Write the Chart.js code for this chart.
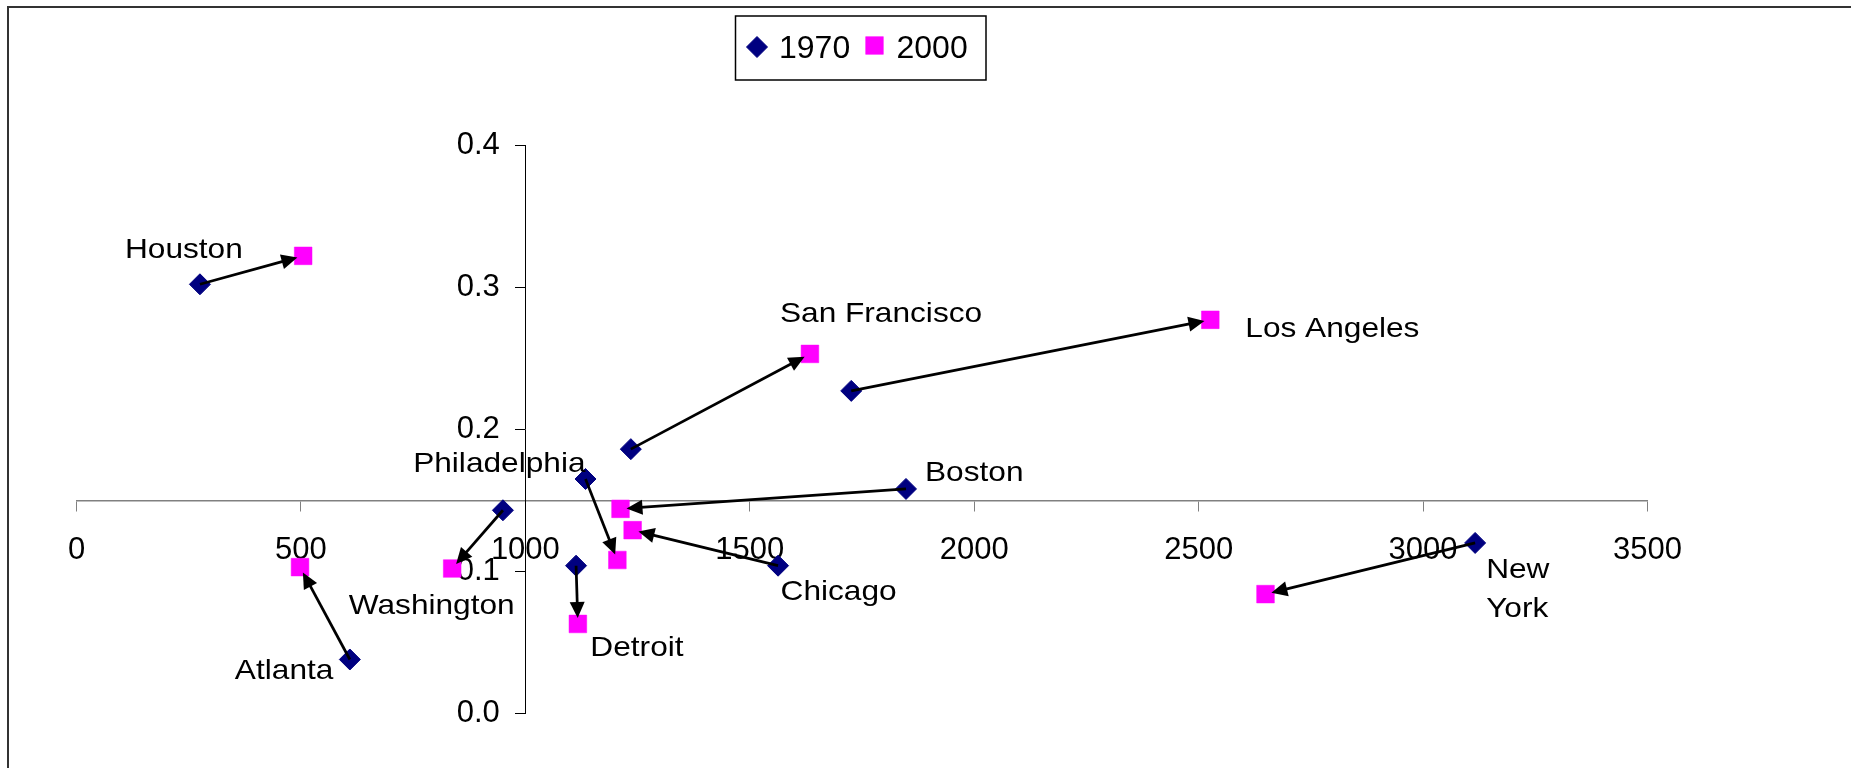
<!DOCTYPE html>
<html>
<head>
<meta charset="utf-8">
<title>Metro areas 1970 / 2000</title>
<script src="https://cdn.jsdelivr.net/npm/chart.js@4/dist/chart.umd.min.js"></script>
<style>
  html, body { margin: 0; padding: 0; background: #ffffff; }
  #wrap { position: relative; width: 1851px; height: 768px; }
</style>
</head>
<body>
<div id="wrap"><canvas id="chart" width="1851" height="768"></canvas></div>
<script>
// ---- data ----
const cities = ['Houston', 'San Francisco', 'Los Angeles', 'Boston', 'Philadelphia',
                'Chicago', 'Washington', 'Detroit', 'Atlanta', 'New York'];
const seriesNames = ['1970', '2000'];
const x1970 = [275, 1235, 1726, 1848, 1134, 1563, 950, 1113, 609, 3116];
const y1970 = [0.302, 0.186, 0.227, 0.158, 0.165, 0.104, 0.143, 0.104, 0.038, 0.120];
const x2000 = [505, 1634, 2526, 1212, 1205, 1239, 837, 1117, 498, 2649];
const y2000 = [0.322, 0.253, 0.277, 0.144, 0.108, 0.129, 0.102, 0.063, 0.103, 0.084];
const xTickValues = [0, 500, 1000, 1500, 2000, 2500, 3000, 3500];
const yTickLabels = ['0.0', '0.1', '0.2', '0.3', '0.4'];

// ---- styling ----
const FONT = '"Liberation Sans", Arial, Helvetica, sans-serif';
const LABEL_SIZE = 28.5;     // city names
const LABEL_STRETCH = 1.11;  // city names are set slightly wide
const Y_LABEL_GAP = 25.5;    // distance from the vertical axis to its labels

// where each city name sits, relative to one of its two points (pixels)
const labelPlacement = {
  'Houston':       { from: 1970, align: 'left',  dx: -75,  dy: -26 },
  'San Francisco': { from: 2000, align: 'left',  dx: -30,  dy: -32 },
  'Los Angeles':   { from: 2000, align: 'left',  dx: 35,   dy: 17.5 },
  'Boston':        { from: 1970, align: 'left',  dx: 19,   dy: -7.5 },
  'Philadelphia':  { from: 1970, align: 'right', dx: 0,    dy: -7 },
  'Chicago':       { from: 1970, align: 'left',  dx: 2.5,  dy: 34.5 },
  'Washington':    { from: 2000, align: 'right', dx: 62.5, dy: 45.5 },
  'Detroit':       { from: 2000, align: 'left',  dx: 12.5, dy: 32.5 },
  'Atlanta':       { from: 1970, align: 'right', dx: -16.5, dy: 20 },
  'New York':      { from: 1970, align: 'left',  dx: 11,   dy: 35, wrap: true, lineGap: 39 }
};

function pointsOf(xs, ys) {
  return xs.map((v, i) => ({ x: v, y: ys[i] }));
}

// Outer frame of the chart area (runs past the right and bottom edges)
const outerFrame = {
  id: 'outerFrame',
  beforeDraw(chart) {
    const ctx = chart.ctx;
    ctx.save();
    ctx.strokeStyle = '#333333';
    ctx.lineWidth = 2;
    ctx.strokeRect(8, 7, chart.width + 20, chart.height + 20);
    ctx.restore();
  }
};

// The crossing y axis puts its labels right on the axis line;
// move them left so they sit beyond the tick marks.
const crossingAxisLabels = {
  id: 'crossingAxisLabels',
  beforeDraw(chart) {
    const scale = chart.scales.y;
    const items = scale.getLabelItems(chart.chartArea);
    if (items._shifted) return;
    items.forEach(it => { it.options.translation[0] -= Y_LABEL_GAP; });
    items._shifted = true;
  }
};

// Arrows from each 1970 point to its 2000 point, then the city names
const cityAnnotations = {
  id: 'cityAnnotations',
  afterDraw(chart) {
    const { ctx } = chart;
    const xs = chart.scales.x, ys = chart.scales.y;
    ctx.save();
    cities.forEach((name, i) => {
      const ax = xs.getPixelForValue(x1970[i]), ay = ys.getPixelForValue(y1970[i]);
      const bx = xs.getPixelForValue(x2000[i]), by = ys.getPixelForValue(y2000[i]);
      const ang = Math.atan2(by - ay, bx - ax);
      const c = Math.cos(ang), s = Math.sin(ang);
      const tipX = bx - c * 6, tipY = by - s * 6;
      const headLen = 16, headHalf = 7.5;
      const baseX = tipX - c * headLen, baseY = tipY - s * headLen;
      ctx.strokeStyle = '#000';
      ctx.lineWidth = 2.75;
      ctx.lineCap = 'butt';
      ctx.beginPath();
      ctx.moveTo(ax, ay);
      ctx.lineTo(baseX + c * 2, baseY + s * 2);
      ctx.stroke();
      ctx.fillStyle = '#000';
      ctx.beginPath();
      ctx.moveTo(tipX, tipY);
      ctx.lineTo(baseX + s * headHalf, baseY - c * headHalf);
      ctx.lineTo(baseX - s * headHalf, baseY + c * headHalf);
      ctx.closePath();
      ctx.fill();
    });

    ctx.fillStyle = '#000';
    ctx.font = LABEL_SIZE + 'px ' + FONT;
    ctx.textBaseline = 'alphabetic';
    cities.forEach((name, i) => {
      const p = labelPlacement[name];
      const px = p.from === 1970 ? xs.getPixelForValue(x1970[i]) : xs.getPixelForValue(x2000[i]);
      const py = p.from === 1970 ? ys.getPixelForValue(y1970[i]) : ys.getPixelForValue(y2000[i]);
      const lines = p.wrap ? name.split(' ') : [name];
      lines.forEach((line, k) => {
        ctx.save();
        ctx.translate(px + p.dx, py + p.dy + k * (p.lineGap || 0));
        ctx.scale(LABEL_STRETCH, 1);
        ctx.textAlign = p.align;
        ctx.fillText(line, 0, 0);
        ctx.restore();
      });
    });
    ctx.restore();
  }
};

// Boxed legend above the plot
const boxedLegend = {
  id: 'boxedLegend',
  afterDraw(chart) {
    const ctx = chart.ctx;
    ctx.save();
    ctx.fillStyle = '#ffffff';
    ctx.fillRect(735.5, 16, 250.5, 64);
    ctx.strokeStyle = '#000';
    ctx.lineWidth = 1.5;
    ctx.strokeRect(735.5, 16, 250.5, 64);
    const slots = [{ cx: 757, cy: 47, tx: 779 }, { cx: 874.5, cy: 45.5, tx: 896.5 }];
    chart.data.datasets.forEach((ds, i) => {
      const sl = slots[i];
      ctx.fillStyle = ds.backgroundColor;
      ctx.strokeStyle = ds.borderColor;
      ctx.lineWidth = ds.borderWidth;
      const opts = { pointStyle: ds.pointStyle, radius: ds.pointRadius, rotation: 0, borderWidth: ds.borderWidth };
      if (Chart.helpers && Chart.helpers.drawPoint) {
        Chart.helpers.drawPoint(ctx, opts, sl.cx, sl.cy);
      }
      ctx.fillStyle = '#000';
      ctx.font = '32px ' + FONT;
      ctx.textAlign = 'left';
      ctx.textBaseline = 'middle';
      ctx.fillText(ds.label, sl.tx, 49);
    });
    ctx.restore();
  }
};

new Chart(document.getElementById('chart'), {
  type: 'scatter',
  data: {
    datasets: [
      {
        label: seriesNames[0],
        data: pointsOf(x1970, y1970),
        pointStyle: 'rectRot',
        pointRadius: 10.5,
        pointHoverRadius: 10.5,
        backgroundColor: '#000080',
        borderColor: '#000080',
        borderWidth: 1
      },
      {
        label: seriesNames[1],
        data: pointsOf(x2000, y2000),
        pointStyle: 'rect',
        pointRadius: 12.5,
        pointHoverRadius: 12.5,
        backgroundColor: '#ff00ff',
        borderColor: '#ff00ff',
        borderWidth: 0.5
      }
    ]
  },
  options: {
    responsive: false,
    devicePixelRatio: 1,
    animation: false,
    events: [],
    layout: { padding: { left: 76.5, right: 203.5, top: 145, bottom: 54.5 } },
    plugins: {
      legend: { display: false },
      tooltip: { enabled: false },
      title: { display: false }
    },
    scales: {
      x: {
        type: 'linear',
        min: 0,
        max: 3500,
        position: { y: 0.15 },
        z: 1,
        afterBuildTicks: (scale) => { scale.ticks = xTickValues.map(v => ({ value: v })); },
        ticks: {
          color: '#000',
          font: { family: FONT, size: 31 },
          padding: 22,
          autoSkip: false,
          maxRotation: 0,
          callback: (v, i) => String(xTickValues[i])
        },
        grid: { drawOnChartArea: false, drawTicks: true, tickLength: 10, color: '#808080', lineWidth: 1 },
        border: { display: true, color: '#808080', width: 1.5 }
      },
      y: {
        type: 'linear',
        min: 0,
        max: 0.4,
        position: { x: 1000 },
        z: 1,
        afterBuildTicks: (scale) => { scale.ticks = yTickLabels.map(t => ({ value: parseFloat(t) })); },
        ticks: {
          color: '#000',
          font: { family: FONT, size: 31 },
          padding: 15.5,
          autoSkip: false,
          callback: (v, i) => yTickLabels[i]
        },
        grid: { drawOnChartArea: false, drawTicks: true, tickLength: 10, color: '#000', lineWidth: 1 },
        border: { display: true, color: '#000', width: 1 }
      }
    }
  },
  plugins: [outerFrame, crossingAxisLabels, cityAnnotations, boxedLegend]
});
</script>
</body>
</html>
